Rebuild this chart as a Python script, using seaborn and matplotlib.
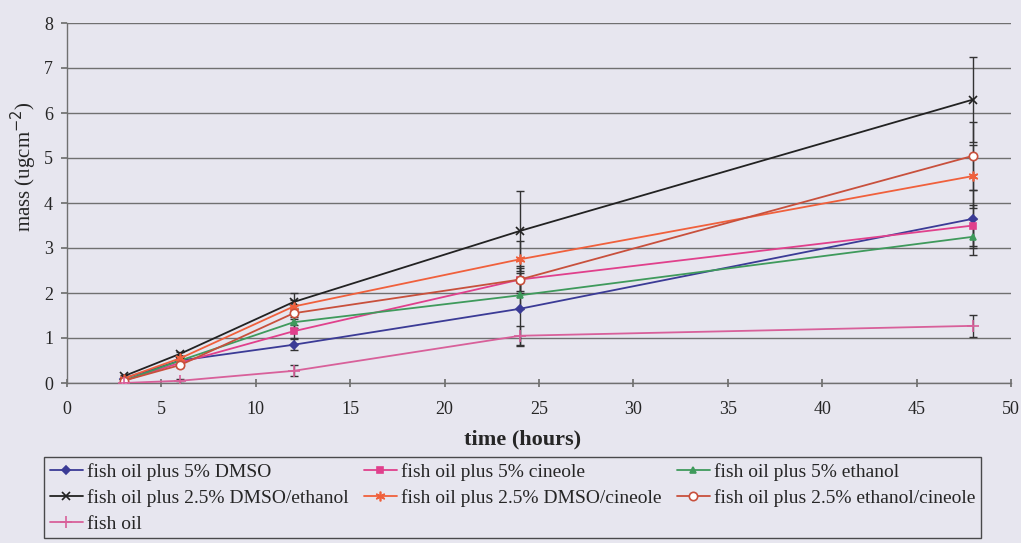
import numpy as np
import pandas as pd
import matplotlib
matplotlib.use("Agg")
import matplotlib.pyplot as plt
import seaborn as sns

# Sampling times (hours)
time_h = [3, 6, 12, 24, 48]

# Mean permeated mass (ug cm^-2) per formulation
dmso = [0.10, 0.50, 0.85, 1.65, 3.65]
cineole = [0.05, 0.45, 1.15, 2.30, 3.50]
ethanol = [0.05, 0.50, 1.35, 1.95, 3.25]
dmso_ethanol = [0.15, 0.65, 1.80, 3.38, 6.30]
dmso_cineole = [0.10, 0.55, 1.70, 2.75, 4.60]
ethanol_cineole = [0.05, 0.40, 1.55, 2.30, 5.05]
fish_oil = [0.00, 0.05, 0.27, 1.05, 1.27]

# Standard deviations
dmso_sd = [0.03, 0.05, 0.12, 0.80, 0.65]
cineole_sd = [0.03, 0.05, 0.15, 0.30, 0.45]
ethanol_sd = [0.03, 0.05, 0.12, 0.30, 0.40]
dmso_ethanol_sd = [0.03, 0.05, 0.20, 0.88, 0.95]
dmso_cineole_sd = [0.03, 0.05, 0.15, 0.40, 0.70]
ethanol_cineole_sd = [0.03, 0.05, 0.12, 0.25, 0.75]
fish_oil_sd = [0.02, 0.05, 0.12, 0.22, 0.25]

labels = [
    "fish oil plus 5% DMSO",
    "fish oil plus 5% cineole",
    "fish oil plus 5% ethanol",
    "fish oil plus 2.5% DMSO/ethanol",
    "fish oil plus 2.5% DMSO/cineole",
    "fish oil plus 2.5% ethanol/cineole",
    "fish oil",
]
means = [dmso, cineole, ethanol, dmso_ethanol, dmso_cineole, ethanol_cineole, fish_oil]
sds = [dmso_sd, cineole_sd, ethanol_sd, dmso_ethanol_sd, dmso_cineole_sd,
       ethanol_cineole_sd, fish_oil_sd]

colors = ["#3b3b96", "#e0408c", "#3f9a5c", "#222222", "#f0603c", "#c8503c", "#d8609a"]
markers = ["D", "s", "^", "x", (6, 2, 0), "o", "+"]
msizes = [4, 5, 5, 6, 7, 6, 8]
faces = [None, None, None, None, None, "white", None]

bg = "#e7e6ef"
sns.set_theme(style="white")
plt.rcParams["font.family"] = ["Liberation Serif", "DejaVu Serif"]

fig = plt.figure(figsize=(10.21, 5.43), dpi=100, facecolor=bg)
ax = fig.add_axes([67 / 1021, 1 - 383 / 543, (1011 - 67) / 1021, (383 - 23) / 543])
ax.set_facecolor(bg)

handles = []
for lab, m, s, c, mk, ms, fc in zip(labels, means, sds, colors, markers, msizes, faces):
    df = pd.DataFrame({"time": time_h, "mass": m})
    ax.errorbar(time_h, m, yerr=s, fmt="none", ecolor="#333333", elinewidth=1.0,
                capsize=3, capthick=1.0, zorder=2)
    sns.lineplot(data=df, x="time", y="mass", ax=ax, color=c, lw=1.3,
                 marker=mk, markersize=ms,
                 markerfacecolor=(fc if fc else c), markeredgecolor=c,
                 markeredgewidth=1.2, zorder=3, label=lab, legend=False)
    handles.append(ax.lines[-1])

ax.set_xlim(0, 50)
ax.set_ylim(0, 8)
ax.set_xticks(np.arange(0, 51, 5))
ax.set_yticks(np.arange(0, 9, 1))
ax.grid(axis="y", color="#707070", lw=1.0)
ax.grid(axis="x", visible=False)
for side in ["top", "right"]:
    ax.spines[side].set_visible(False)
for side in ["left", "bottom"]:
    ax.spines[side].set_color("#707070")
    ax.spines[side].set_linewidth(1.0)
ax.tick_params(axis="both", which="both", color="#707070", labelsize=13,
               left=True, bottom=True)
ax.tick_params(axis="y", direction="out", length=4, pad=6)
ax.tick_params(axis="x", direction="inout", length=6, pad=10)
ax.set_xlabel("time (hours)", fontsize=16, fontweight="bold")
ax.set_ylabel("mass (ugcm$^{-2}$)", fontsize=15)
ax.xaxis.set_label_coords(0.483, -0.128)
ax.yaxis.set_label_coords(-0.03, 0.6)

order = [0, 3, 6, 1, 4, 2, 5]
leg = fig.legend([handles[i] for i in order], [labels[i] for i in order],
                 loc="upper left", bbox_to_anchor=(44 / 1021, 1 - 457 / 543),
                 ncol=3, frameon=True, fancybox=False, fontsize=14,
                 handlelength=1.7, handletextpad=0.2, borderaxespad=0,
                 columnspacing=0.8, labelspacing=0.42, borderpad=0.3)
leg.get_frame().set_edgecolor("#222222")
leg.get_frame().set_facecolor(bg)
leg.get_frame().set_linewidth(1.0)

fig.savefig("out.png", dpi=100, facecolor=bg)
